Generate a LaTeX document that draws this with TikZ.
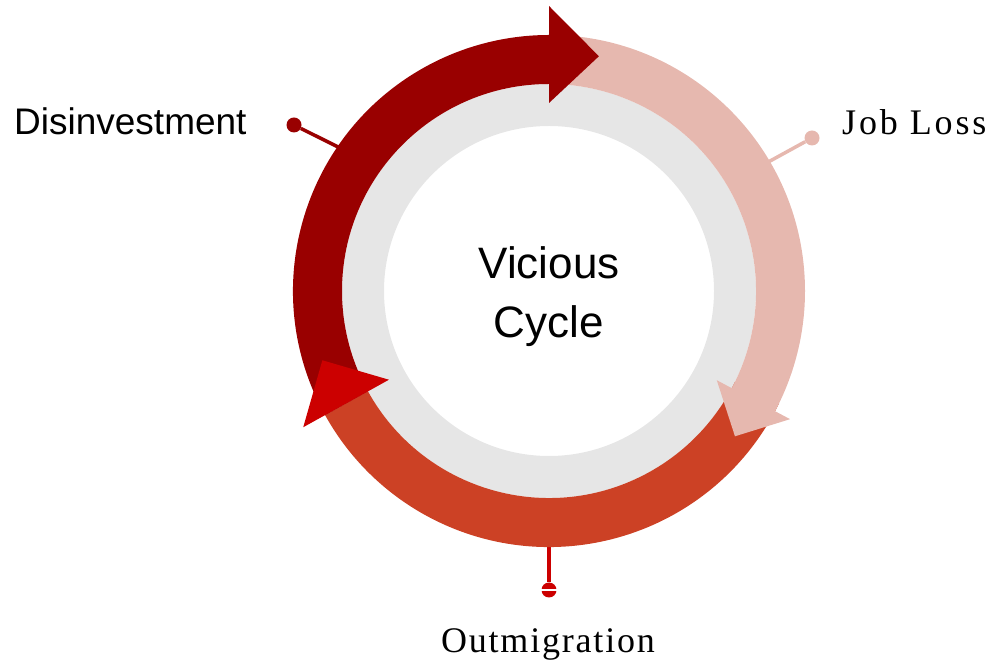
\documentclass[tikz,border=0pt]{standalone}
\usepackage{fontspec}
\setmainfont{Liberation Serif}
\setsansfont{Liberation Sans}
\newfontfamily\spacedserif[LetterSpace=5]{Liberation Serif}
\newfontfamily\widerserif[LetterSpace=8]{Liberation Serif}

\definecolor{cycledark}{HTML}{990000}
\definecolor{cyclepink}{HTML}{E6B8AF}
\definecolor{cycleorange}{HTML}{CC4125}
\definecolor{cyclered}{HTML}{CC0000}
\definecolor{ringgray}{HTML}{E6E6E6}

\begin{document}
\begin{tikzpicture}[x=1pt,y=1pt,
    labeldot/.style={circle,inner sep=0pt,minimum size=15pt},
    pinline/.style={line width=3.5pt},
    sanslabel/.style={font=\sffamily\fontsize{37}{44}\selectfont},
    seriflabel/.style={font=\spacedserif\fontsize{36}{43}\selectfont},
    centerlabel/.style={font=\sffamily\fontsize{44}{52}\selectfont}]
        \useasboundingbox (0,0) rectangle (996,664);

        \begin{scope}[shift={(549,373)}]
        % label pins (drawn first, the ring covers their ends)
        \node[labeldot,fill=cycledark] (disdot) at (-255,166) {};
        \coordinate (disend) at (145.5:250pt);
        \draw[pinline,cycledark] (disdot) -- (disend);

        \node[labeldot,fill=cyclepink] (jobdot) at (263,153) {};
        \coordinate (jobend) at (30.5:250pt);
        \draw[pinline,cyclepink] (jobdot) -- (jobend);

        \node[labeldot,fill=cyclered] (outdot) at (0,-299) {};
        \coordinate (outend) at (-90:250pt);
        \draw[pinline,cyclered] (outdot) -- (outend);
        \draw[white,line width=2pt] (outdot.west) -- (outdot.east);

        % inner gray ring
        \fill[ringgray,even odd rule] (0,0) circle[radius=207pt] (0,0) circle[radius=165pt];

        % bottom arc (outmigration)
        \fill[cycleorange] (-26:256pt) arc[start angle=-26,end angle=-151,radius=256pt]
            -- (-151:207pt) arc[start angle=-151,end angle=-26,radius=207pt] -- cycle;

        % right arc (job loss)
        \fill[cyclepink] (92:256pt) arc[start angle=92,end angle=-28,radius=256pt]
            -- (-28:273pt) -- (-38:236pt) -- (-28:190pt)
            -- (-28:207pt) arc[start angle=-28,end angle=92,radius=207pt] -- cycle;

        % left arc (disinvestment)
        \fill[cycledark] (209:256pt) arc[start angle=209,end angle=90,radius=256pt]
            -- (90:285pt) -- (78:240pt) -- (90:188pt)
            -- (90:207pt) arc[start angle=90,end angle=209,radius=207pt] -- cycle;

        % head of the bottom arc
        \fill[cyclered] (209:281pt) -- (197:237pt) -- (209:183pt) -- cycle;
        \end{scope}

        % labels
        \node[sanslabel,anchor=base west,inner sep=0pt] (disinv) at (14,529) {Disinvestment};
        \node[font=\widerserif\fontsize{36}{43}\selectfont,anchor=base west,inner sep=0pt] (jobloss) at (842,529) {Job Loss};
        \node[seriflabel,anchor=base,inner sep=0pt] (outmig) at (548,12) {Outmigration};
        \node[centerlabel,anchor=base,inner sep=0pt] (vicious) at (549,385) {Vicious};
        \node[centerlabel,anchor=base,inner sep=0pt] (cycle) at (549,326) {Cycle};
\end{tikzpicture}
\end{document}
